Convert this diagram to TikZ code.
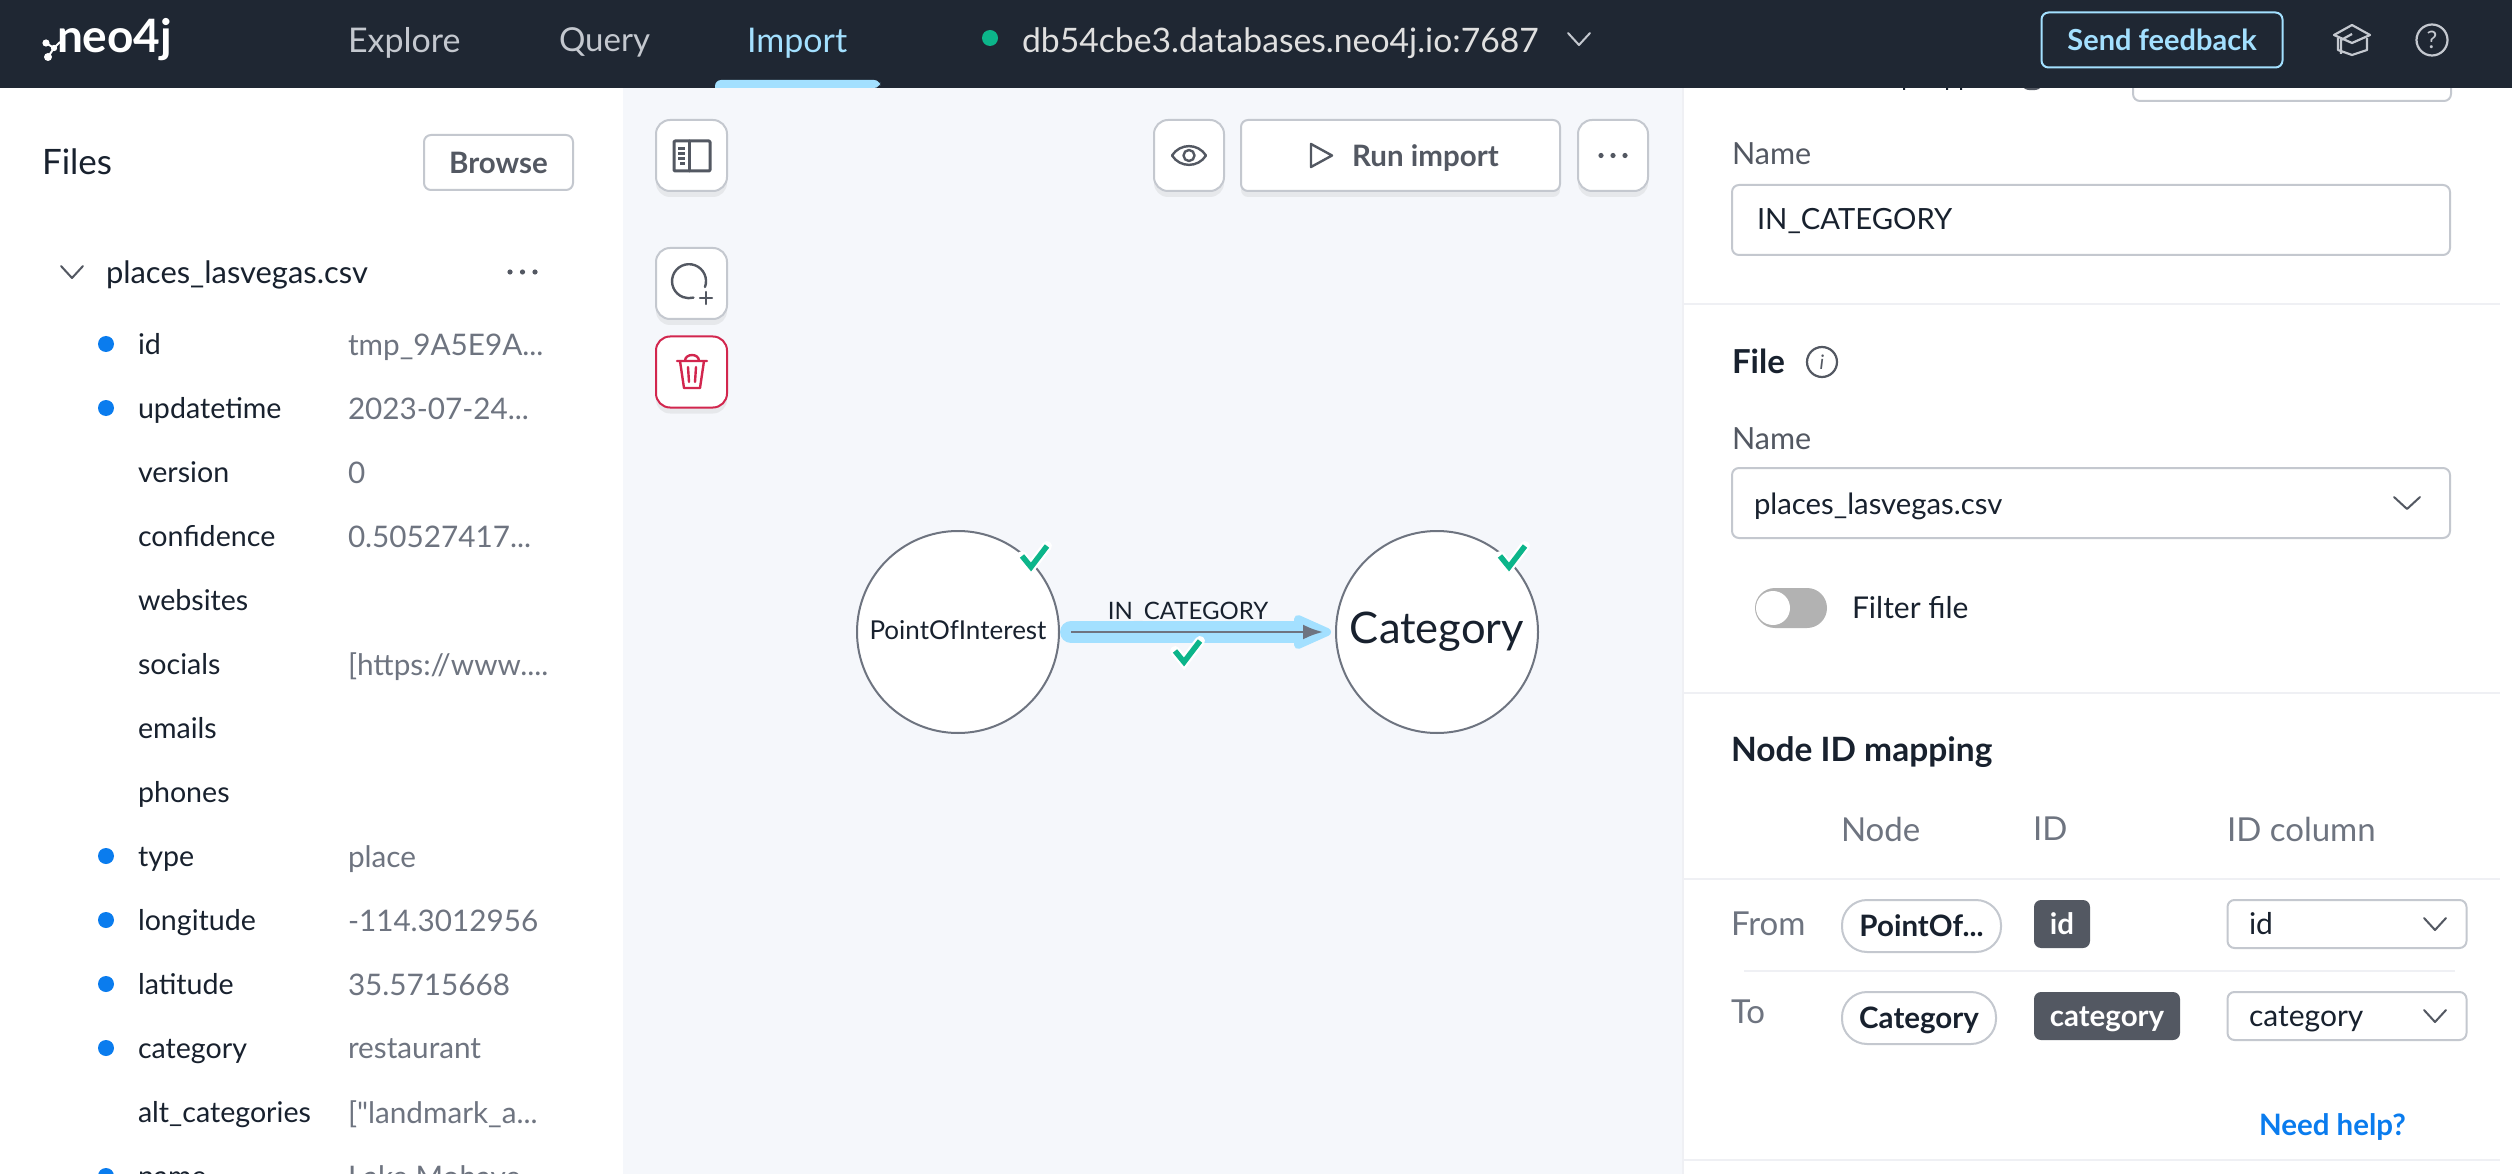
\documentclass[tikz,border=0pt]{standalone}
\usepackage{fontspec}
\setmainfont{Lato}
\newfontfamily\plainq{Lato}
\usetikzlibrary{arrows.meta,shadows,calc}
\definecolor{hdr}{HTML}{1F2733}
\definecolor{canvasbg}{HTML}{F5F7FB}
\definecolor{ink}{HTML}{18212E}
\definecolor{muted}{HTML}{6E7480}
\definecolor{midg}{HTML}{535862}
\definecolor{edgeg}{HTML}{C4C8CF}
\definecolor{linel}{HTML}{EFF0F4}
\definecolor{sky}{HTML}{A3E0FF}
\definecolor{navg}{HTML}{C4C8CF}
\definecolor{bluedot}{HTML}{0A7CEE}
\definecolor{okgreen}{HTML}{0CB58A}
\definecolor{redb}{HTML}{D2264E}
\newcommand{\fs}[1]{\fontsize{#1}{#1}\selectfont}
\newcommand{\filerow}[3]{%
  \node[keytxt] (key#1) at (138,#1) {#2};
  \node[valtxt] (val#1) at (348,#1) {#3};}
\newcommand{\keydot}[1]{\node[fdot] (dot#1) at (106,#1) {};}
\newcommand{\chevron}[3][11]{\draw[chev,midg] ($(#2,#3)+(-#1,-6)$) -- ($(#2,#3)+(0,6)$) -- ($(#2,#3)+(#1,-6)$);}
\tikzset{
 lev/.style={execute at begin node={\vphantom{Ag}}},
 levb/.style={execute at begin node={\rule[-0.2em]{0pt}{1.12em}}},
 txt/.style={inner sep=0pt,outer sep=0pt,lev,anchor=west,yshift=-3pt},
 ctxt/.style={inner sep=0pt,outer sep=0pt,lev,anchor=center},
 keytxt/.style={txt,text=ink,font=\fs{28.6}},
 valtxt/.style={txt,text=muted,font=\fs{29.7}},
 fdot/.style={circle,fill=bluedot,inner sep=0pt,minimum size=16pt},
 navtxt/.style={txt,text=navg,font=\fs{34}},
 box/.style={draw=edgeg,line width=2pt,fill=white,rounded corners=7pt,inner sep=0pt},
 softshadow/.style={drop shadow={shadow xshift=0pt,shadow yshift=-6pt,opacity=0.10,fill=black!60}},
 toolbtn/.style={box,rounded corners=14pt,softshadow},
 divline/.style={linel,line width=2pt},
 chev/.style={line width=2pt,line cap=round,line join=round},
 lbl/.style={txt,text=midg,font=\fs{30.5}},
 hdlbl/.style={txt,text=muted,font=\fs{33}},
 graphnode/.style={circle,draw=muted,line width=2pt,fill=white,minimum size=202pt,inner sep=0pt},
 checkhalo/.style={white,line width=10pt,line cap=round,line join=miter},
 checkmark/.style={okgreen,line width=5.5pt,line join=miter},
 tag/.style={fill=midg,rounded corners=7pt,inner sep=0pt,text=white,font=\fs{29.5}\bfseries,levb},
 pill/.style={draw=edgeg,line width=2pt,fill=white,rounded corners=25pt,inner sep=0pt,text=ink,font=\fs{29.5}\bfseries,levb},
 icon/.style={midg,line width=2.4pt,line join=round,line cap=round},
}
\begin{document}
\begin{tikzpicture}[x=1pt,y=-1pt]
\useasboundingbox (0,0) rectangle (2512,1174);
\clip (0,0) rectangle (2512,1174);
\fill[white] (0,0) rectangle (2512,1174);
% canvas
\fill[canvasbg] (623,88) rectangle (1683,1174);
\draw[linel,line width=1.5pt] (1683,88) -- (1683,1174);
% left file list
\node[txt,text=ink,font=\fs{35}] (files) at (42,162) {Files};
\node[box,minimum width=149pt,minimum height=55pt,text=midg,font=\fs{29.5}\bfseries] (browse) at (498.5,162.5) {Browse};
\chevron{72}{272}
\node[txt,text=ink,font=\fs{30.9}] (fname) at (106,272) {places\_lasvegas.csv};
\foreach \i in {0,1,2} \fill[midg] (510+\i*12.5,272) circle (2.6pt);
\foreach \y in {344,408,856,920,984,1048,1176} {\keydot{\y}}
\filerow{344}{id}{tmp\_9A5E9A...}
\filerow{408}{updatetime}{2023-07-24...}
\filerow{472}{version}{0}
\filerow{536}{confidence}{0.50527417...}
\filerow{600}{websites}{}
\filerow{664}{socials}{[https://www....}
\filerow{728}{emails}{}
\filerow{792}{phones}{}
\filerow{856}{type}{place}
\filerow{920}{longitude}{-114.3012956}
\filerow{984}{latitude}{35.5715668}
\filerow{1048}{category}{restaurant}
\filerow{1112}{alt\_categories}{[{\plainq"}landmark\_a...}
\filerow{1176}{name}{Lake Mohave}
% toolbar buttons
\node[toolbtn,minimum width=71pt,minimum height=71pt] (b1) at (691.5,155.5) {};
\node[toolbtn,minimum width=71pt,minimum height=71pt] (b2) at (691.5,283.5) {};
\node[toolbtn,draw=redb,minimum width=71pt,minimum height=71pt] (b3) at (691.5,372) {};
\node[toolbtn,minimum width=70pt,minimum height=71pt] (beye) at (1189,155.5) {};
\node[toolbtn,minimum width=319pt,minimum height=71pt,rounded corners=7pt] (brun) at (1400.5,155.5) {};
\node[toolbtn,minimum width=70pt,minimum height=71pt] (bmore) at (1613,155.5) {};
% panel icon
\draw[icon,line width=3pt,rounded corners=1pt] (674,141) rectangle (710,171);
\draw[icon,line width=3pt] (689,141) -- (689,171);
\foreach \yy in {147,152,157} \fill[midg] (678,\yy) rectangle (685,\yy+3);
\fill[midg] (680,162) rectangle (685,165);
% add node icon
\draw[icon] (705,287) arc[start angle=-20,end angle=285,radius=17pt];
\draw[icon] (706,292) -- (706,304) (700,298) -- (712,298);
% trash
\draw[redb,line width=2.4pt,line join=round,line cap=round] (677,361) -- (707,361) (685,361) .. controls (685,353) and (699,353) .. (699,361)
 (680,361) -- (684,388) -- (700,388) -- (704,361) (688,367) -- (689,382) (696,367) -- (695,382);
% eye
\draw[icon] (1172,155.5) .. controls (1180,143) and (1198,143) .. (1206,155.5) .. controls (1198,168) and (1180,168) .. (1172,155.5) -- cycle;
\draw[icon] (1189,155.5) circle (5.5pt);
% run
\node[txt,text=midg,font=\fs{29.5}\bfseries] (runt) at (1352,155) {Run import};
\draw[icon] (1311,144) -- (1332,155.5) -- (1311,167) -- cycle;
\foreach \i in {-1,0,1} \fill[midg] (1613+\i*12,155.5) circle (2.6pt);
% graph
\node[graphnode] (poi) at (958,632) {};
\node[graphnode] (cat) at (1437,632) {};
\node[ctxt,text=ink,font=\fs{26}] at (poi) (poit) {PointOfInterest};
\node[ctxt,text=ink,font=\fs{43.5}] at (cat) (catt) {Category};
\node[ctxt,text=ink,font=\fs{24}] (rl) at (1188,613) {IN\_CATEGORY};
\draw[sky,line width=22pt,line cap=round] (1071,632) -- (1300,632);
\fill[sky,line join=round,draw=sky,line width=8pt] (1298,619) -- (1327,632) -- (1298,645) -- cycle;
\coordinate (es) at (poi.east); \coordinate (ee) at (cat.west);
\draw[-{Latex[length=20pt,width=15pt]},muted,line width=2.5pt] ($(es)+(11,0)$) -- ($(ee)+(-12,0)$);
\foreach \dx/\dy in {1022/556,1500/556,1175/651}{
 \draw[checkhalo] (\dx,\dy) -- (\dx+9,\dy+11) -- (\dx+25,\dy-10);
 \draw[checkmark] (\dx,\dy) -- (\dx+9,\dy+11) -- (\dx+25,\dy-10);
}
% right panel
\fill[white] (1684,88) rectangle (2512,1174);
\draw[edgeg,line width=2pt,fill=white,rounded corners=7pt] (2133,70) rectangle (2451,101);
\fill[ink] (1903,88) rectangle (1905,90) (1946,88) rectangle (1948,90) (1960,88) rectangle (1962,90);
\fill[midg] (2024,88) .. controls (2026,91) and (2038,91) .. (2040,88) -- cycle;
\node[lbl] (lname) at (1732,153) {Name};
\node[box,minimum width=718pt,minimum height=70pt] (fname1) at (2091,220) {};
\node[txt,text=ink,font=\fs{29.2}] (fname1t) at (1757,219) {IN\_CATEGORY};
\draw[divline] (1684,304) -- (2500,304);
\node[txt,text=ink,font=\fs{33}\bfseries] (filehd) at (1732,361) {File};
\node[circle,draw=midg,line width=2.2pt,minimum size=30pt,inner sep=0pt,text=midg,font=\fs{20}\itshape] (info) at (1822,362) {i};
\node[lbl] (lname2) at (1732,438) {Name};
\node[box,minimum width=718pt,minimum height=70pt] (fsel) at (2091,503) {};
\node[txt,text=ink,font=\fs{29.3}] (fselt) at (1754,503) {places\_lasvegas.csv};
\chevron[13]{2407}{503}
\fill[black!30,rounded corners=20pt] (1755,588) rectangle (1827,628);
\node[circle,fill=white,inner sep=0pt,minimum size=34pt] (knob) at (1773,608) {};
\node[txt,text=ink,font=\fs{30}] (filt) at (1852,607) {Filter file};
\draw[divline] (1684,693) -- (2500,693);
\node[txt,text=ink,font=\fs{33.5}\bfseries] (nid) at (1731,749) {Node ID mapping};
\node[hdlbl] (h1) at (1841,829) {Node};
\node[hdlbl] (h2) at (2033,829) {ID};
\node[hdlbl] (h3) at (2227,829) {ID column};
\draw[divline] (1684,879) -- (2500,879);
\node[hdlbl] (from) at (1731,924) {From};
\node[pill,minimum width=159pt,minimum height=52pt] (p1) at (1921.5,926) {PointOf...};
\node[tag,minimum width=56pt,minimum height=48pt] (t1) at (2062,924) {id};
\node[box,minimum width=239pt,minimum height=48pt] (s1) at (2347,924) {};
\node[txt,text=ink,font=\fs{30}] (s1t) at (2249,923) {id};
\chevron{2435}{924}
\draw[divline] (1744,971) -- (2455,971);
\node[hdlbl] (to) at (1731,1012) {To};
\node[pill,minimum width=154pt,minimum height=52pt] (p2) at (1919,1018) {Category};
\node[tag,minimum width=146pt,minimum height=48pt] (t2) at (2107,1016) {category};
\node[box,minimum width=239pt,minimum height=48pt] (s2) at (2347,1016) {};
\node[txt,text=ink,font=\fs{30}] (s2t) at (2249,1015) {category};
\chevron{2435}{1016}
\node[txt,text=bluedot,font=\fs{29.5}\bfseries] (help3) at (2259,1124) {Need help?};
\draw[divline] (1684,1160) -- (2500,1160);
% header
\fill[hdr] (0,0) rectangle (2512,88);
\node[txt,text=white,font=\fs{46}\bfseries] (logo) at (57,37) {neo4j};
\coordinate (la) at (46,43); \coordinate (lb) at (54,48); \coordinate (lc) at (48,57);
\draw[white,line width=2pt] (la) -- (lb) -- (lc) (lb) -- (60,42);
\fill[white] (la) circle (3.6pt) (lb) circle (3.2pt) (lc) circle (4pt);
\node[navtxt] (nexp) at (348,40) {Explore};
\node[navtxt,font=\fs{33}] (nqry) at (559,40) {Query};
\node[navtxt,text=sky] (nimp) at (747,40) {Import};
\fill[sky,rounded corners=6pt] (715,88) -- (715,80) -- (880,80) -- (880,88) [sharp corners] -- cycle;
\node[circle,fill=okgreen,inner sep=0pt,minimum size=16pt] (condot) at (990,38) {};
\node[txt,text=white!88!black,font=\fs{33.7}] (host) at (1022,40) {db54cbe3.databases.neo4j.io:7687};
\draw[chev,navg] (1568,33) -- (1579,45) -- (1590,33);
\node[draw=sky,line width=2pt,fill=hdr,rounded corners=7pt,minimum width=241pt,minimum height=55pt,inner sep=0pt,text=sky,font=\fs{29}\bfseries,levb] (fb) at (2162,40) {Send feedback};
% cap icon
\draw[navg,line width=2.2pt,line join=round] (2352,25) -- (2370,35) -- (2352,43) -- (2334,35) -- cycle;
\draw[navg,line width=2.2pt,line join=round] (2338,38) -- (2338,50) -- (2352,55) -- (2367,50) -- (2367,38);
\draw[navg,line width=2.2pt] (2352,34) -- (2341,40) -- (2341,54);
% help icon
\node[circle,draw=navg,line width=2.2pt,minimum size=31pt,inner sep=0pt,text=navg,font=\fs{24}] (help) at (2432,40) {?};
\end{tikzpicture}
\end{document}
